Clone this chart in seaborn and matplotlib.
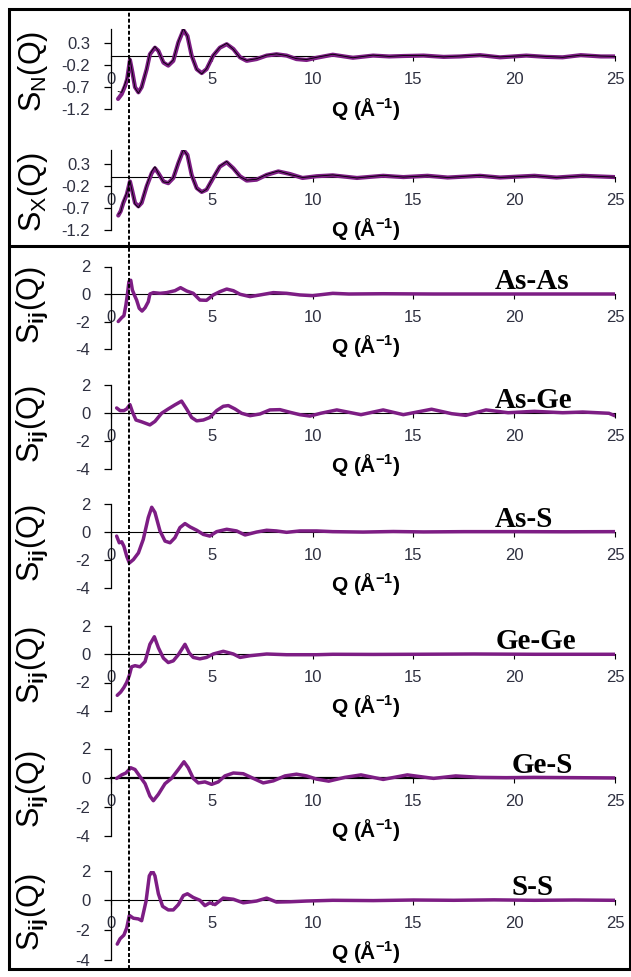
import matplotlib
matplotlib.use("Agg")
import matplotlib.pyplot as plt
import seaborn as sns
import pandas as pd
from matplotlib.lines import Line2D
from matplotlib.patches import Rectangle

# ---------------- data ----------------
q_sn = [0.35,0.53,0.70,0.80,0.94,1.06,1.19,1.36,1.52,1.77,1.93,2.18,2.35,2.60,2.84,3.09,3.34,3.59,3.79,4.00,
        4.25,4.50,4.74,5.07,5.40,5.74,6.07,6.40,6.73,7.22,7.72,8.21,8.71,9.20,9.70,10.2,11.0,12.0,13.0,13.8,
        14.5,15.5,16.5,17.3,18.3,19.3,20.6,21.6,22.4,23.3,24.3,25.0]
sn_model = [-0.97,-0.86,-0.67,-0.52,-0.08,-0.36,-0.70,-0.82,-0.70,-0.29,0.05,0.20,0.13,-0.14,-0.21,-0.10,0.32,0.60,0.47,0.02,
            -0.29,-0.38,-0.29,0.02,0.20,0.28,0.17,-0.02,-0.10,-0.06,0.02,0.05,0.02,-0.06,-0.08,-0.03,0.04,-0.03,0.02,0.00,
            0.01,0.02,-0.01,0.00,0.03,-0.02,0.02,-0.01,-0.02,0.03,0.00,0.00]
sn_exp = [-0.80,-0.82,-0.62,-0.48,-0.03,-0.38,-0.72,-0.84,-0.70,-0.27,0.07,0.23,0.12,-0.13,-0.20,-0.08,0.34,0.64,0.46,0.00,
          -0.30,-0.40,-0.28,0.03,0.21,0.30,0.16,-0.03,-0.09,-0.05,0.03,0.06,0.02,-0.05,-0.07,-0.02,0.05,-0.03,0.03,0.00,
          0.02,0.02,-0.01,0.01,0.03,-0.01,0.02,0.00,-0.02,0.03,0.01,0.00]

q_sx = [0.36,0.48,0.61,0.78,0.94,1.06,1.19,1.36,1.52,1.77,2.02,2.18,2.35,2.60,2.84,3.09,3.34,3.59,3.79,4.00,
        4.25,4.50,4.74,5.07,5.40,5.74,6.07,6.40,6.73,7.22,7.72,8.30,8.88,9.50,10.2,11.0,12.2,13.5,14.5,15.7,
        16.7,18.3,19.3,21.0,22.1,23.4,25.0]
sx_model = [-0.88,-0.78,-0.59,-0.40,-0.10,-0.33,-0.59,-0.67,-0.59,-0.21,0.09,0.20,0.09,-0.10,-0.14,-0.02,0.32,0.62,0.51,0.05,
            -0.25,-0.34,-0.29,-0.02,0.24,0.34,0.20,0.02,-0.08,-0.06,0.05,0.13,0.07,-0.02,0.02,0.04,-0.02,0.03,0.00,0.03,
            -0.01,0.03,-0.01,0.03,-0.01,0.03,0.00]
sx_exp = [-0.85,-0.80,-0.56,-0.36,-0.08,-0.35,-0.62,-0.70,-0.57,-0.18,0.13,0.24,0.08,-0.11,-0.13,-0.01,0.34,0.63,0.49,0.03,
          -0.27,-0.35,-0.28,0.00,0.25,0.36,0.19,0.01,-0.07,-0.05,0.06,0.14,0.06,-0.01,0.02,0.05,-0.02,0.04,0.00,0.03,
          -0.01,0.04,-0.01,0.03,-0.01,0.03,0.00]

q_asas = [0.36,0.53,0.64,0.74,0.81,0.89,0.98,1.06,1.16,1.27,1.40,1.54,1.69,1.85,1.93,2.10,2.43,2.76,3.17,3.45,
          3.75,4.08,4.41,4.74,5.07,5.40,5.74,6.07,6.40,6.90,7.39,8.05,8.71,9.37,10.0,11.0,11.8,13.5,16.0,19.0,22.0,25.0]
s_asas = [-2.00,-1.72,-1.58,-0.80,-0.07,0.90,1.00,0.29,-0.07,-0.44,-1.04,-1.24,-1.00,-0.56,0.00,0.10,0.05,0.10,0.24,0.46,
          0.22,0.05,-0.44,-0.46,-0.07,0.17,0.36,0.24,-0.02,-0.19,-0.07,0.10,0.05,-0.07,-0.12,0.05,0.00,0.02,0.00,0.00,0.00,0.00]

q_asge = [0.28,0.45,0.64,0.78,0.94,1.07,1.24,1.52,1.93,2.18,2.51,2.84,3.17,3.50,3.75,4.00,4.25,4.58,4.90,5.24,
          5.57,5.82,6.15,6.48,6.90,7.39,7.88,8.38,8.88,9.37,9.87,10.4,11.2,12.4,13.5,14.5,15.9,16.9,17.6,18.6,
          19.7,21.0,22.4,23.4,24.7,25.0]
s_asge = [0.36,0.17,0.17,0.29,0.60,0.05,-0.50,-0.63,-0.85,-0.60,-0.02,0.29,0.58,0.85,0.29,-0.32,-0.56,-0.50,-0.32,0.17,
          0.48,0.53,0.29,-0.02,-0.19,-0.07,0.22,0.24,0.05,-0.12,-0.22,-0.02,0.22,-0.12,0.22,-0.12,0.27,-0.05,-0.17,0.22,
          0.02,0.12,0.02,0.07,-0.02,-0.20]

q_ass = [0.28,0.41,0.53,0.64,0.78,0.91,1.11,1.36,1.60,1.85,2.02,2.18,2.43,2.68,2.93,3.17,3.42,3.67,3.92,4.25,
         4.58,4.90,5.24,5.74,6.23,6.65,7.22,7.72,8.21,8.71,9.37,10.2,11.0,12.5,14.0,15.5,17.5,20.0,22.5,25.0]
s_ass = [-0.27,-0.75,-0.68,-1.00,-1.72,-2.20,-1.96,-1.48,-0.51,1.07,1.80,1.43,0.10,-0.63,-0.75,-0.39,0.34,0.63,0.39,0.15,
         -0.15,-0.27,0.05,0.22,0.10,-0.19,0.02,0.15,0.10,0.00,0.10,0.10,0.05,0.02,0.06,0.03,0.05,0.05,0.04,0.05]

q_gege = [0.31,0.48,0.64,0.78,0.91,1.02,1.19,1.44,1.69,1.93,2.15,2.35,2.60,2.84,3.09,3.34,3.67,3.88,4.08,4.41,
          4.74,5.07,5.57,6.07,6.40,6.90,7.72,8.71,10.2,11.0,13.0,15.0,18.0,21.0,25.0]
s_gege = [-2.90,-2.67,-2.35,-1.99,-1.50,-0.90,-0.82,-0.90,-0.53,0.68,1.21,0.44,-0.29,-0.60,-0.48,-0.05,0.68,0.07,-0.24,-0.34,
          -0.24,0.00,0.19,0.00,-0.24,-0.12,0.00,-0.05,-0.05,-0.02,-0.03,-0.02,0.00,-0.02,-0.02]

q_ges = [0.28,0.53,0.74,0.98,1.19,1.44,1.69,1.93,2.10,2.35,2.68,3.00,3.34,3.62,3.83,4.08,4.33,4.66,4.99,5.32,
         5.65,6.07,6.56,7.06,7.55,8.05,8.63,9.20,9.70,10.2,10.8,11.6,12.4,13.5,14.7,16.0,17.1,18.3,19.6,21.0,23.0,25.0]
s_ges = [-0.05,0.19,0.32,0.68,0.56,0.07,-0.41,-1.26,-1.58,-1.14,-0.41,-0.05,0.56,1.09,0.68,-0.05,-0.36,-0.29,-0.46,-0.29,
         0.12,0.32,0.27,-0.05,-0.36,-0.22,0.12,0.24,0.12,-0.10,-0.24,0.02,0.19,-0.12,0.19,-0.05,0.12,0.02,0.00,0.02,0.00,-0.02]

q_ss = [0.31,0.45,0.64,0.78,0.91,1.11,1.36,1.52,1.74,1.90,2.05,2.18,2.35,2.56,2.84,3.09,3.34,3.59,3.79,4.08,
        4.41,4.66,4.90,5.16,5.57,6.07,6.56,7.22,7.72,8.21,8.88,9.70,11.0,13.0,15.0,17.0,19.0,21.0,23.0,25.0]
s_ss = [-2.96,-2.60,-2.35,-1.87,-1.02,-1.21,-1.26,-1.38,-0.05,1.65,2.00,1.65,0.44,-0.41,-0.65,-0.65,-0.29,0.32,0.44,0.19,
        0.00,-0.36,-0.17,-0.29,0.15,0.07,-0.17,-0.05,0.15,-0.12,-0.10,-0.05,0.00,-0.02,0.02,0.00,0.03,0.00,0.02,0.00]

pair_names = ["As-As", "As-Ge", "As-S", "Ge-Ge", "Ge-S", "S-S"]
pair_q = [q_asas, q_asge, q_ass, q_gege, q_ges, q_ss]
pair_s = [s_asas, s_asge, s_ass, s_gege, s_ges, s_ss]

top_yticks = [-1.2, -0.7, -0.2, 0.3]
top_yticklabels = ["-1.2", "-0.7", "-0.2", "0.3"]
pair_yticks = [-4, -2, 0, 2]
pair_yticklabels = ["-4", "-2", "0", "2"]
xticks = [0, 5, 10, 15, 20, 25]
q_marker = 0.9

# ---------------- style ----------------
sns.set_theme(style="white")
plt.rcParams["font.family"] = ["Liberation Sans", "DejaVu Sans"]
plt.rcParams["axes.unicode_minus"] = False
plt.rcParams["mathtext.fontset"] = "custom"
plt.rcParams["mathtext.rm"] = "Liberation Sans"
plt.rcParams["mathtext.bf"] = "Liberation Sans:bold"
plt.rcParams["mathtext.it"] = "Liberation Sans:italic"

PURPLE = "#7d1d84"
TICKC = "#2e3040"
W, H = 631, 977
fig = plt.figure(figsize=(W / 100, H / 100), dpi=100)


def make_axes(top, bottom):
    return fig.add_axes([111 / W, 1 - bottom / H, 504 / W, (bottom - top) / H])


def style(ax, ylim, yticks, ylabels):
    ax.set_xlim(0, 25)
    ax.set_ylim(*ylim)
    ax.patch.set_alpha(0)
    for s in ["top", "right"]:
        ax.spines[s].set_visible(False)
    ax.spines["bottom"].set_position(("data", 0))
    ax.spines["bottom"].set_color("black")
    ax.spines["bottom"].set_linewidth(0.8)
    ax.spines["left"].set_color("black")
    ax.spines["left"].set_linewidth(0.9)
    ax.set_xticks(xticks)
    ax.set_xticklabels([str(t) for t in xticks])
    ax.set_yticks(yticks)
    ax.set_yticklabels(ylabels)
    ax.tick_params(axis="y", left=True, direction="out", length=5, width=0.9,
                   pad=10, labelsize=12, labelcolor=TICKC, color="black")
    ax.tick_params(axis="x", bottom=True, direction="out", length=3.5, width=0.8,
                   pad=8, labelsize=12, labelcolor=TICKC, color="black")
    ax.set_xlabel("")
    ax.set_ylabel("")
    ax.annotate(r"Q (Å$^{\mathbf{-1}}$)", xy=(0.5, 0), xycoords=("axes fraction", "data"),
                xytext=(2, -37.5), textcoords="offset points", ha="center", va="center",
                fontsize=15, fontweight="bold", color="black")


def ylab(text, cx, cy):
    fig.text(cx / W, 1 - cy / H, text, rotation=90, ha="center", va="center",
             fontsize=22, color="black")


# top panels
top_layout = [(29.3, 109.0), (150.0, 229.5)]
top_data = [(q_sn, sn_model, sn_exp, r"S$_{\mathregular{N}}$(Q)"),
            (q_sx, sx_model, sx_exp, r"S$_{\mathregular{X}}$(Q)")]
axes = []
for (t, b), (q, mod, exp, lab) in zip(top_layout, top_data):
    ax = make_axes(t, b)
    df = pd.DataFrame({"Q": q, "model": mod, "exp": exp})
    sns.lineplot(data=df, x="Q", y="model", ax=ax, color=PURPLE, linewidth=3.0,
                 estimator=None, sort=False, zorder=3)
    sns.lineplot(data=df, x="Q", y="exp", ax=ax, color="black", linewidth=0.6,
                 estimator=None, sort=False, zorder=4)
    style(ax, (-1.2, 0.62), top_yticks, top_yticklabels)
    ylab(lab, 33, (t + b) / 2 + 2)
    axes.append(ax)

pair_layout = [(266.5, 349.0), (385.0, 469.0), (504.5, 588.0),
               (625.5, 711.0), (748.5, 836.0), (870.7, 959.5)]
label_q = [19.05, 19.05, 19.05, 19.1, 19.85, 19.85]
for (t, b), name, q, s, lq in zip(pair_layout, pair_names, pair_q, pair_s, label_q):
    ax = make_axes(t, b)
    df = pd.DataFrame({"Q": q, "S": s})
    sns.lineplot(data=df, x="Q", y="S", ax=ax, color=PURPLE, linewidth=2.5,
                 estimator=None, sort=False, zorder=3)
    style(ax, (-4, 2), pair_yticks, pair_yticklabels)
    if name == "Ge-S":
        ax.spines["bottom"].set_linewidth(1.6)
    ax.annotate(name, xy=(lq, 0), xycoords="data", xytext=(0, 3.5), textcoords="offset points",
                ha="left", va="baseline", fontsize=21, fontweight="bold",
                family=["Liberation Serif", "DejaVu Serif"], color="black")
    ylab(r"S$_{\mathbf{ij}}$(Q)", 32, (t + b) / 2 - 3)
    axes.append(ax)

# frame, separator, dashed marker line
fig.add_artist(Rectangle((9 / W, 1 - 968.5 / H), 620.5 / W, 960 / H, transform=fig.transFigure,
                         fill=False, lw=2.2, ec="black", zorder=10))
fig.add_artist(Line2D([9 / W, 629.5 / W], [1 - 245.5 / H] * 2, transform=fig.transFigure,
                      lw=2.2, color="black", zorder=10))
xd_px = axes[0].transData.transform((q_marker, 0))[0]
xd = fig.transFigure.inverted().transform((xd_px, 0))[0]
fig.add_artist(Line2D([xd, xd], [1 - 968.5 / H, 1 - 8.5 / H], transform=fig.transFigure,
                      lw=1.4, color="black", linestyle=(0, (2.0, 1.1)), zorder=9))

fig.savefig("out.png", dpi=100, facecolor="white")
